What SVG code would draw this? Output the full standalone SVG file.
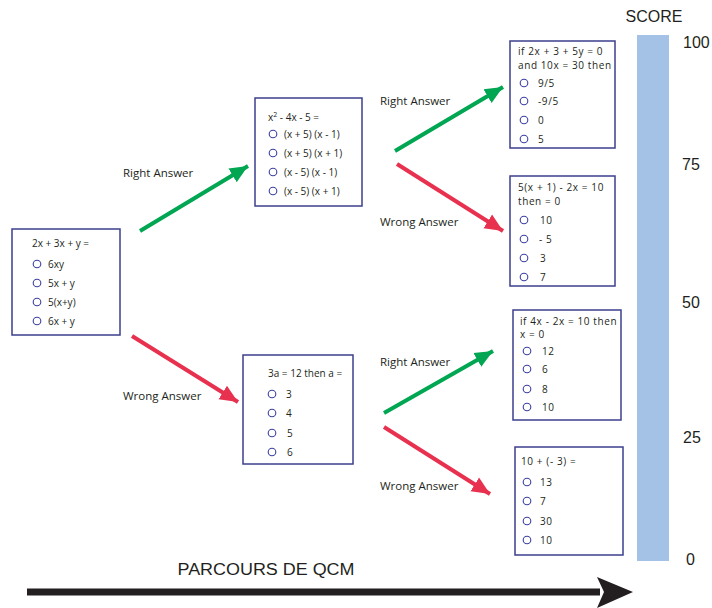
<svg xmlns="http://www.w3.org/2000/svg" width="712" height="608" viewBox="0 0 712 608">
<style>
.box{fill:#fff;stroke:#3d3f8f;stroke-width:1.5}
.q{font-family:"Open Sans","Noto Sans",sans-serif;font-size:10px;fill:#231f20}
.w .q{letter-spacing:0.6px}
.o{fill:none;stroke:#3b3fa0;stroke-width:1.1}
.lbl{font-family:"Open Sans","Noto Sans",sans-serif;font-size:11.5px;fill:#231f20}
.g{stroke:#00a651;stroke-width:4;fill:none}
.r{stroke:#e8304f;stroke-width:4;fill:none}
.sc{font-family:"Liberation Sans",Arial,sans-serif;font-size:16px;fill:#231f20}
</style>
<defs>
<marker id="ag" markerUnits="userSpaceOnUse" markerWidth="20" markerHeight="20" refX="18" refY="8" orient="auto" viewBox="0 0 20 16"><path d="M0,0 L18,8 L0,16 z" fill="#00a651"/></marker>
<marker id="ar" markerUnits="userSpaceOnUse" markerWidth="20" markerHeight="20" refX="18" refY="8" orient="auto" viewBox="0 0 20 16"><path d="M0,0 L18,8 L0,16 z" fill="#e8304f"/></marker>
</defs>
<rect x="637" y="35" width="32" height="526" fill="#a4c2e5"/>
<text class="sc" x="654" y="22" text-anchor="middle" font-size="17">SCORE</text>
<text class="sc" x="683" y="48">100</text>
<text class="sc" x="682" y="170">75</text>
<text class="sc" x="682" y="308">50</text>
<text class="sc" x="683" y="443">25</text>
<text class="sc" x="686" y="565">0</text>
<text class="sc" x="266" y="575" text-anchor="middle" font-size="18" textLength="177" lengthAdjust="spacingAndGlyphs">PARCOURS DE QCM</text>
<g id="connectors">
<line class="g" x1="140" y1="231" x2="248" y2="166" marker-end="url(#ag)"/>
<line class="r" x1="132" y1="336" x2="238" y2="402" marker-end="url(#ar)"/>
<line class="g" x1="395" y1="151" x2="503" y2="87" marker-end="url(#ag)"/>
<line class="r" x1="397" y1="164" x2="503" y2="231" marker-end="url(#ar)"/>
<line class="g" x1="384" y1="413" x2="493" y2="351" marker-end="url(#ag)"/>
<line class="r" x1="384" y1="427" x2="490" y2="494" marker-end="url(#ar)"/>
<text class="lbl" x="123" y="177">Right Answer</text>
<text class="lbl" x="123" y="400">Wrong Answer</text>
<text class="lbl" x="380" y="105">Right Answer</text>
<text class="lbl" x="380" y="226">Wrong Answer</text>
<text class="lbl" x="380" y="366">Right Answer</text>
<text class="lbl" x="380" y="490">Wrong Answer</text>
<line x1="27" y1="592" x2="600" y2="592" stroke="#231f20" stroke-width="7"/>
<path d="M597,577 L633,592 L597,608 L604,592 z" fill="#231f20"/>
</g>
<g id="q1">
<rect class="box" x="12" y="229" width="108" height="106"/>
<text class="q" x="32" y="247">2x + 3x + y =</text>
<circle class="o" cx="37" cy="264" r="3.8"/><text class="q" x="48" y="268">6xy</text>
<circle class="o" cx="37" cy="283" r="3.8"/><text class="q" x="48" y="287">5x + y</text>
<circle class="o" cx="37" cy="302" r="3.8"/><text class="q" x="48" y="306">5(x+y)</text>
<circle class="o" cx="37" cy="321" r="3.8"/><text class="q" x="48" y="325">6x + y</text>
</g>
<g id="q2">
<rect class="box" x="255" y="98" width="107" height="108"/>
<text class="q" x="268" y="121">x<tspan font-size="7" dy="-4">2</tspan><tspan dy="4"> - 4x - 5 =</tspan></text>
<circle class="o" cx="273" cy="134" r="3.8"/><text class="q" x="284" y="138">(x + 5) (x - 1)</text>
<circle class="o" cx="273" cy="153" r="3.8"/><text class="q" x="284" y="157">(x + 5) (x + 1)</text>
<circle class="o" cx="273" cy="172" r="3.8"/><text class="q" x="284" y="176">(x - 5) (x - 1)</text>
<circle class="o" cx="273" cy="191" r="3.8"/><text class="q" x="284" y="195">(x - 5) (x + 1)</text>
</g>
<g id="q3">
<rect class="box" x="243" y="355" width="110" height="109"/>
<text class="q" x="268" y="377">3a = 12 then a =</text>
<circle class="o" cx="272" cy="394" r="3.8"/><text class="q" x="286" y="398">3</text>
<circle class="o" cx="272" cy="413" r="3.8"/><text class="q" x="286" y="417">4</text>
<circle class="o" cx="272" cy="433" r="3.8"/><text class="q" x="287" y="437">5</text>
<circle class="o" cx="272" cy="452" r="3.8"/><text class="q" x="287" y="456">6</text>
</g>
<g id="q4" class="w">
<rect class="box" x="510" y="41" width="105" height="107"/>
<text class="q" x="518" y="55">if 2x + 3 + 5y = 0</text>
<text class="q" x="518" y="69">and 10x = 30 then</text>
<circle class="o" cx="524" cy="83" r="3.8"/><text class="q" x="538" y="87">9/5</text>
<circle class="o" cx="524" cy="101" r="3.8"/><text class="q" x="538" y="105">-9/5</text>
<circle class="o" cx="524" cy="120" r="3.8"/><text class="q" x="538" y="124">0</text>
<circle class="o" cx="524" cy="139" r="3.8"/><text class="q" x="538" y="143">5</text>
</g>
<g id="q5" class="w">
<rect class="box" x="510" y="176" width="105" height="110"/>
<text class="q" x="518" y="191">5(x + 1) - 2x = 10</text>
<text class="q" x="518" y="205">then = 0</text>
<circle class="o" cx="524" cy="220" r="3.8"/><text class="q" x="540" y="224">10</text>
<circle class="o" cx="524" cy="239" r="3.8"/><text class="q" x="539" y="243">- 5</text>
<circle class="o" cx="524" cy="258" r="3.8"/><text class="q" x="540" y="262">3</text>
<circle class="o" cx="524" cy="277" r="3.8"/><text class="q" x="540" y="281">7</text>
</g>
<g id="q6" class="w">
<rect class="box" x="513" y="310" width="108" height="110"/>
<text class="q" x="520" y="325">if 4x - 2x = 10 then</text>
<text class="q" x="520" y="338">x = 0</text>
<circle class="o" cx="527" cy="351" r="3.8"/><text class="q" x="542" y="355">12</text>
<circle class="o" cx="527" cy="369" r="3.8"/><text class="q" x="542" y="373">6</text>
<circle class="o" cx="527" cy="389" r="3.8"/><text class="q" x="542" y="393">8</text>
<circle class="o" cx="527" cy="407" r="3.8"/><text class="q" x="542" y="411">10</text>
</g>
<g id="q7" class="w">
<rect class="box" x="515" y="447" width="108" height="108"/>
<text class="q" x="521" y="465">10 + (- 3) =</text>
<circle class="o" cx="527" cy="482" r="3.8"/><text class="q" x="540" y="486">13</text>
<circle class="o" cx="527" cy="501" r="3.8"/><text class="q" x="540" y="505">7</text>
<circle class="o" cx="527" cy="521" r="3.8"/><text class="q" x="540" y="525">30</text>
<circle class="o" cx="527" cy="540" r="3.8"/><text class="q" x="540" y="544">10</text>
</g>
</svg>
